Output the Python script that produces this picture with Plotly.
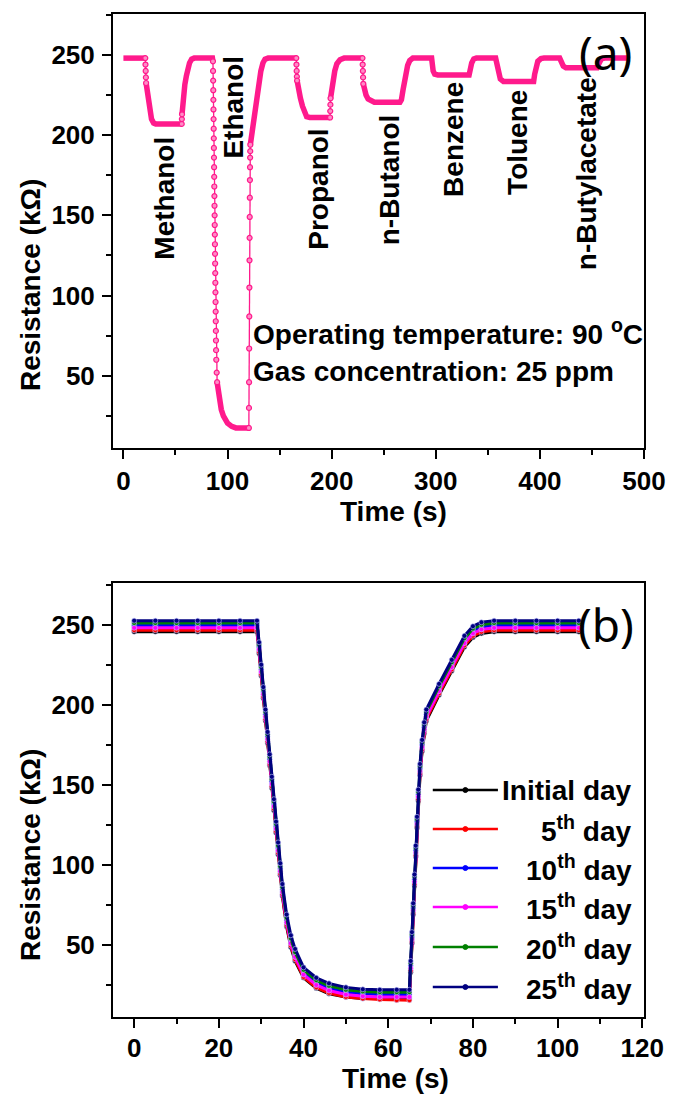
import plotly.graph_objects as go

# ---------------- Panel (a): response to different gases ----------------
time_a = [
    0, 21,
    21.2, 21.4, 21.6, 21.8,
    23, 25, 27, 29, 31, 56,
    56.15, 56.3,
    57, 58, 59, 60.5, 62, 63.5, 65.5, 68, 85.5,
    86.0, 86.1, 86.2, 86.3, 86.4, 86.5, 86.6, 86.7, 86.8, 86.9, 87.0,
    87.1, 87.2, 87.3, 87.4, 87.5, 87.6, 87.7, 87.8, 87.9, 88.0,
    88.1, 88.2, 88.3, 88.4, 88.5, 88.6, 88.7, 88.8, 88.9, 89.0,
    89.2, 89.6, 90, 91, 92, 94, 96, 98, 100, 104, 108, 120.5,
    120.6, 120.7, 120.8, 120.9, 121.0, 121.1, 121.2, 121.3, 121.4, 121.5,
    121.6, 121.7, 121.8, 121.9,
    122.5, 124, 126, 128, 130, 132, 134, 136, 139, 166,
    166.2, 166.4, 166.6, 166.8,
    168, 170, 172, 174, 176, 179, 198.5,
    198.65, 198.8, 198.95,
    200, 201.5, 203, 205, 208, 212, 229.6,
    229.8, 230.0, 230.2, 230.4,
    231.5, 233, 235, 238, 241, 265.6,
    267, 268.5, 270, 271.5, 273, 275, 278, 296,
    296.5, 297.5, 299, 302, 332,
    333, 334.5, 336.5, 339, 357.5,
    358.5, 360, 362, 365, 394,
    395, 396, 398, 401, 404, 419,
    420.5, 422.5, 425, 455,
    457, 459, 462, 485,
]
res_a = [
    248, 248,
    244, 240, 236, 232.5,
    226, 217, 210, 207.5, 207, 207,
    210, 213,
    219, 226, 231.5, 237, 242, 245, 247.3, 248, 248,
    246, 240, 234, 228, 222, 216, 210, 204, 198, 192, 186,
    180, 174, 168, 162, 156, 150, 144, 138, 132, 126,
    120, 114, 108, 102, 96, 90, 84, 78, 72, 66,
    60, 52, 46, 40, 35, 29, 25, 22, 20.5, 18.5, 17.5, 17.5,
    30, 46, 67, 87, 105, 122, 136, 149, 161, 172,
    180, 186, 190, 194,
    197, 203.5, 212, 221, 231, 240, 245, 247.3, 248, 248,
    244, 240, 236.5, 234,
    229, 223, 218, 213.5, 211.5, 211, 211,
    215, 219, 223,
    228, 234, 240, 244.5, 247, 248, 248,
    244, 240, 236, 232,
    228, 225, 222.5, 221, 220.5, 220.5,
    222, 228, 234, 239.5, 243.5, 246.5, 248, 248,
    244, 240, 238, 237.5, 237.5,
    241, 245, 247.5, 248, 248,
    244, 239, 235, 233.5, 233.5,
    238, 242, 246, 247.7, 248, 248,
    245.5, 243, 242, 242,
    245, 247.5, 248, 248,
]
gas_names = ["Methanol", "Ethanol", "Propanol", "n-Butanol",
             "Benzene", "Toluene", "n-Butylacetate"]
gas_label_x = [40, 106, 187, 255, 317, 378.6, 445]
gas_label_top = [200, 251, 205, 214.5, 234.4, 229.5, 237.5]

# ---------------- Panel (b): stability over days ----------------
time_b = [0, 5, 10, 15, 20, 25, 29,
          29.5, 30, 30.5, 31, 31.5, 32, 32.5, 33, 33.5, 34, 34.5, 35,
          36, 37, 38, 40, 43, 46, 50, 54, 58, 62, 65,
          65.3, 65.6, 65.9, 66.2, 66.5, 66.8, 67.1, 67.5, 68, 68.5, 69,
          72, 75, 78, 80, 82, 85, 90, 95, 100, 105]
day_labels = ["Initial day", "5<sup>th</sup> day", "10<sup>th</sup> day",
              "15<sup>th</sup> day", "20<sup>th</sup> day", "25<sup>th</sup> day"]
res_initial = [245.5, 245.5, 245.5, 245.5, 245.5, 245.5, 245.5,
               232, 218, 204, 190, 176, 162, 148, 134, 120, 106.5, 93.5, 80.5,
               61.5, 48.5, 40, 29.5, 23, 19.5, 17.5, 16.5, 16.5, 16.5, 16.5,
               33, 51, 69, 87, 105, 123, 140, 156, 171, 182, 190,
               206, 221, 236, 242, 244.5, 245.5, 245.5, 245.5, 245.5, 245.5]
res_day5 = [246.5, 246.5, 246.5, 246.5, 246.5, 246.5, 246.5,
            233, 219, 205, 191, 177, 163, 149, 135, 121, 107.5, 94.5, 81.5,
            62.5, 49.5, 41, 30, 23.5, 20, 17.5, 16.5, 16, 15.5, 15.5,
            34, 52, 70, 88, 106, 124, 141, 157, 172, 183, 191,
            207, 222, 237, 243, 245.5, 246.5, 246.5, 246.5, 246.5, 246.5]
res_day10 = [249.5, 249.5, 249.5, 249.5, 249.5, 249.5, 249.5,
             236, 222, 208, 194, 180, 166, 152, 138, 124, 110.5, 97.5, 84.5,
             65.5, 52.5, 44, 33, 26.5, 23, 20.5, 19.5, 19, 19, 19,
             37, 55, 73, 91, 109, 127, 144, 160, 175, 186, 194,
             210, 225, 240, 246, 248.5, 249.5, 249.5, 249.5, 249.5, 249.5]
res_day15 = [248, 248, 248, 248, 248, 248, 248,
             234.5, 220.5, 206.5, 192.5, 178.5, 164.5, 150.5, 136.5, 122.5, 109, 96, 83,
             64, 51, 42.5, 31.5, 25, 21.5, 19, 18, 17.5, 17.5, 17.5,
             35.5, 53.5, 71.5, 89.5, 107.5, 125.5, 142.5, 158.5, 173.5, 184.5, 192.5,
             208.5, 223.5, 238.5, 244.5, 247, 248, 248, 248, 248, 248]
res_day20 = [251, 251, 251, 251, 251, 251, 251,
             237.5, 223.5, 209.5, 195.5, 181.5, 167.5, 153.5, 139.5, 125.5, 112, 99, 86,
             67, 54, 45.5, 34.5, 28, 24.5, 22, 21, 20.5, 20.5, 20.5,
             38.5, 56.5, 74.5, 92.5, 110.5, 128.5, 145.5, 161.5, 176.5, 187.5, 195.5,
             211.5, 226.5, 241.5, 247.5, 250, 251, 251, 251, 251, 251]
res_day25 = [252.5, 252.5, 252.5, 252.5, 252.5, 252.5, 252.5,
             239, 225, 211, 197, 183, 169, 155, 141, 127, 114, 101, 88,
             69, 56, 47.5, 36, 29.5, 26, 23.5, 22.3, 22, 22, 22,
             40, 58, 76, 94, 112, 130, 147, 163, 178, 189, 197,
             213, 228, 243, 249, 251.5, 252.5, 252.5, 252.5, 252.5, 252.5]
series_b = [res_initial, res_day5, res_day10, res_day15, res_day20, res_day25]
colors_b = ["#000000", "#ff0000", "#0000ff", "#ff00ff", "#008000", "#000080"]

# ---------------- styling ----------------
PINK = "#ff1a8c"
FONT = "Liberation Sans, Arial, sans-serif"
W, H = 678, 1095
ML, MR, MT, MB = 113, 27, 14, 78
PW, PH = W - ML - MR, H - MT - MB


def px_x(px):
    return (px - ML) / PW


def px_y(py):
    return (H - MB - py) / PH


fig = go.Figure()

# split panel (a) into slow (thick band) and fast (thin dotted) runs
thick_x, thick_y, thin_x, thin_y = [], [], [], []
prev_kind = None
for i in range(len(time_a) - 1):
    slope = abs((res_a[i + 1] - res_a[i]) / (time_a[i + 1] - time_a[i]))
    kind = "thin" if slope > 12 else "thick"
    tx, ty = (thin_x, thin_y) if kind == "thin" else (thick_x, thick_y)
    if kind != prev_kind:
        if tx:
            tx.append(None)
            ty.append(None)
        tx.append(time_a[i])
        ty.append(res_a[i])
    tx.append(time_a[i + 1])
    ty.append(res_a[i + 1])
    prev_kind = kind

fig.add_trace(go.Scatter(x=thick_x, y=thick_y, mode="lines",
                         line=dict(color=PINK, width=5.5),
                         showlegend=False, xaxis="x", yaxis="y"))
fig.add_trace(go.Scatter(x=thin_x, y=thin_y, mode="lines+markers",
                         line=dict(color=PINK, width=1.3),
                         marker=dict(size=5, color="#ff8cc6",
                                     line=dict(color=PINK, width=1.2)),
                         showlegend=False, xaxis="x", yaxis="y"))

for name, vals, col in zip(day_labels, series_b, colors_b):
    fig.add_trace(go.Scatter(x=time_b, y=vals, mode="lines+markers", name=name,
                             line=dict(color=col, width=3),
                             marker=dict(size=5, color=col,
                                         line=dict(color="#c8c8ff", width=0.6)),
                             showlegend=False, xaxis="x2", yaxis="y2"))

TICKFONT = dict(family=FONT, size=26, color="black", weight="bold")


def axis_style(**kw):
    d = dict(showline=True, linecolor="black", linewidth=2, mirror=True,
             ticks="outside", ticklen=9, tickwidth=2, tickcolor="black",
             showgrid=False, zeroline=False, tickfont=TICKFONT)
    d.update(kw)
    return d


def minor(dt):
    return dict(dtick=dt, ticks="outside", ticklen=5, tickwidth=2,
                tickcolor="black")


fig.update_layout(
    width=W, height=H,
    margin=dict(l=ML, r=MR, t=MT, b=MB),
    paper_bgcolor="white", plot_bgcolor="white",
    showlegend=False,
    xaxis=axis_style(domain=[0, 1], range=[-10, 500], dtick=100, anchor="y",
                     minor=minor(50), ticklabelstandoff=0),
    yaxis=axis_style(domain=[px_y(448), 1], range=[5, 275.5], dtick=50,
                     anchor="x", minor=minor(25), ticklabelstandoff=2),
    xaxis2=axis_style(domain=[0, 1], range=[-5, 120.4], dtick=20, anchor="y2",
                      minor=minor(10), ticklabelstandoff=-2),
    yaxis2=axis_style(domain=[0, px_y(583)], range=[5, 276], dtick=50,
                      anchor="x2", minor=minor(25), ticklabelstandoff=2),
)

ann = []
bold28 = dict(family=FONT, size=28, color="black", weight="bold")
# gas labels
for name, gx, gy in zip(gas_names, gas_label_x, gas_label_top):
    ann.append(dict(x=gx, y=gy, xref="x", yref="y", text=name, textangle=-90,
                    showarrow=False, xanchor="center", yanchor="top",
                    font=bold28))
ann.append(dict(x=123, y=77, xref="x", yref="y",
                text="Operating temperature: 90 <sup>o</sup>C",
                showarrow=False, xanchor="left", yanchor="middle", font=bold28))
ann.append(dict(x=123, y=52.6, xref="x", yref="y",
                text="Gas concentration: 25 ppm",
                showarrow=False, xanchor="left", yanchor="middle", font=bold28))
# axis titles
for cy in (285, 855):
    ann.append(dict(x=px_x(30), y=px_y(cy), xref="paper", yref="paper",
                    text="Resistance (kΩ)", textangle=-90, showarrow=False,
                    xanchor="center", yanchor="middle", font=bold28))
for cx, cy in ((397, 511), (399, 1078)):
    ann.append(dict(x=px_x(cx), y=px_y(cy), xref="paper", yref="paper",
                    text="Time (s)", showarrow=False,
                    xanchor="center", yanchor="middle", font=bold28))
# panel letters
for lab, cx, cy in (("(a)", 612, 52), ("(b)", 613, 624)):
    ann.append(dict(x=px_x(cx), y=px_y(cy), xref="paper", yref="paper",
                    text=lab, showarrow=False, xanchor="center",
                    yanchor="middle",
                    font=dict(family="Noto Sans, Open Sans, sans-serif",
                              size=46, color="black")))

# custom legend for panel (b)
shapes = []
rows = [790, 829, 868, 907, 947, 987]
for lab, col, ry in zip(day_labels, colors_b, rows):
    yy = px_y(ry)
    shapes.append(dict(type="line", xref="paper", yref="paper",
                       x0=px_x(437), x1=px_x(503), y0=yy, y1=yy,
                       line=dict(color=col, width=2.5)))
    shapes.append(dict(type="circle", xref="paper", yref="paper",
                       x0=px_x(467.5), x1=px_x(472.5),
                       y0=px_y(ry + 2.5), y1=px_y(ry - 2.5),
                       fillcolor=col, line=dict(color=col, width=1)))
    ann.append(dict(x=px_x(641), y=yy, xref="paper", yref="paper", text=lab,
                    showarrow=False, xanchor="right", yanchor="middle",
                    font=bold28))

fig.update_layout(annotations=ann, shapes=shapes)
fig.write_html("out.html",
               config={"displayModeBar": False},
               post_script="document.body.style.margin='0';"
                           "document.body.style.padding='0';"
                           "document.documentElement.style.overflow='hidden';")
